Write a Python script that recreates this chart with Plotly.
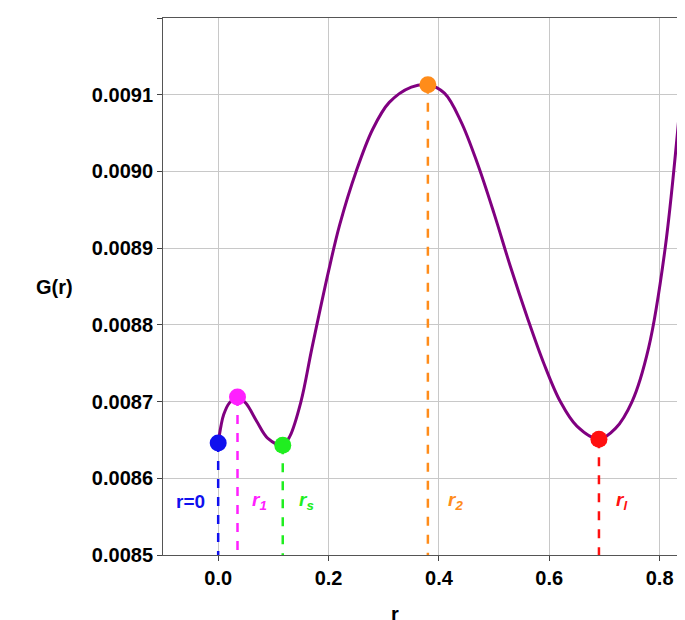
import plotly.graph_objects as go

r_curve = [0.0, 0.005, 0.01, 0.02, 0.035, 0.05, 0.07, 0.09, 0.117, 0.13, 0.15, 0.17, 0.2, 0.22, 0.25, 0.28, 0.31, 0.35, 0.38,
           0.41, 0.44, 0.47, 0.5, 0.53, 0.56, 0.59, 0.62, 0.65, 0.69, 0.72, 0.75, 0.78, 0.81, 0.84, 0.855]
g_curve = [0.008646, 0.008668, 0.008683, 0.008698, 0.008706, 0.008698, 0.008674, 0.008652, 0.008643, 0.008655, 0.0087, 0.00877,
           0.00887, 0.00893, 0.009, 0.009055, 0.00909, 0.00911, 0.009113, 0.009102, 0.009065, 0.00901, 0.008945, 0.008875,
           0.00881, 0.00875, 0.0087, 0.008668, 0.008651, 0.008665, 0.0087, 0.00877, 0.0089, 0.00911, 0.00924]

pt_r = [0.0, 0.035, 0.117, 0.38, 0.69]
pt_g = [0.008646, 0.008706, 0.008643, 0.009113, 0.008651]
pt_col = ["#1010ee", "#ff20ff", "#20ee20", "#ff8c1a", "#ff1010"]
pt_lab = ["r=0", "r<sub>1</sub>", "r<sub>s</sub>", "r<sub>2</sub>", "r<sub>l</sub>"]
lab_x = [-0.05, 0.075, 0.16, 0.43, 0.73]

fig = go.Figure()
for x, y, c in zip(pt_r, pt_g, pt_col):
    fig.add_trace(go.Scatter(x=[x, x], y=[y, 0.0085], mode="lines", line=dict(color=c, width=2.5, dash="dash"), showlegend=False))
fig.add_trace(go.Scatter(x=r_curve, y=g_curve, mode="lines", line=dict(color="#800080", width=3, shape="spline", smoothing=1), showlegend=False))
fig.add_trace(go.Scatter(x=pt_r, y=pt_g, mode="markers", marker=dict(color=pt_col, size=17), showlegend=False))
for x, t, c in zip(lab_x, pt_lab, pt_col):
    fig.add_annotation(x=x, y=0.00857, text=f"<b><i>{t}</i></b>" if t != "r=0" else "<b>r=0</b>",
                       showarrow=False, font=dict(color=c, size=19, family="Liberation Sans"))

ax = dict(showgrid=True, gridcolor="#c8c8c8", gridwidth=1.2, showline=True, linecolor="#555", mirror=True, ticks="outside",
          tickfont=dict(size=20, family="Liberation Sans", color="black"), zeroline=False, automargin=False)
fig.update_xaxes(range=[-0.1, 0.855], tickvals=[0, 0.2, 0.4, 0.6, 0.8], ticktext=["<b>0.0</b>", "<b>0.2</b>", "<b>0.4</b>", "<b>0.6</b>", "<b>0.8</b>"], **ax)
yt = [0.0085 + i * 0.0001 for i in range(8)]
fig.update_yaxes(range=[0.0085, 0.0092], tickvals=yt, ticktext=[f"<b>{v:.4f}</b>" for v in yt], **ax)
fig.update_layout(width=685, height=620, margin=dict(l=155, r=3, t=10, b=73), plot_bgcolor="white", paper_bgcolor="white")
fig.add_annotation(xref="paper", yref="paper", x=-0.245, y=0.5, text="<b>G(r)</b>", showarrow=False, font=dict(size=20, family="Liberation Sans", color="black"))
fig.add_annotation(xref="paper", yref="paper", x=0.44, y=-0.085, yanchor="top", text="<b>r</b>", showarrow=False, font=dict(size=20, family="Liberation Sans", color="black"))
fig.write_html("out.html")
